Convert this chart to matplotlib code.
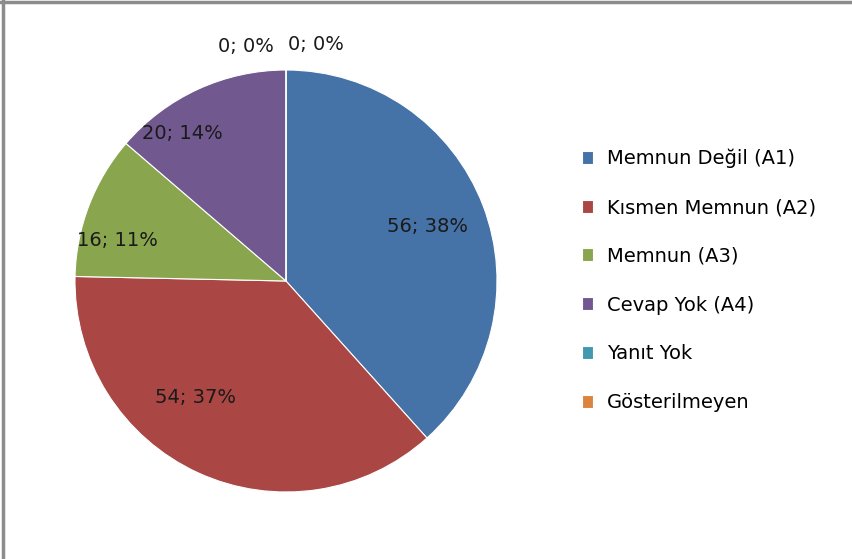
import matplotlib
matplotlib.use("Agg")
import matplotlib.pyplot as plt
from matplotlib.lines import Line2D

categories = ["Memnun Değil (A1)", "Kısmen Memnun (A2)", "Memnun (A3)",
              "Cevap Yok (A4)", "Yanıt Yok", "Gösterilmeyen"]
counts = [56, 54, 16, 20, 0, 0]
colors = ["#4572A7", "#AA4643", "#89A54E", "#71588F", "#4198AF", "#DB843D"]

# label anchors in pie units (Excel "best fit" placement)
label_pos = [(0.67, 0.26), (-0.43, -0.55), (-0.80, 0.19),
             (-0.49, 0.70), (-0.19, 1.11), (0.14, 1.12)]

plt.rcParams["font.family"] = ["DejaVu Sans"]

fig = plt.figure(figsize=(8.53, 5.59), dpi=100)
ax = fig.add_axes([75 / 853, 67 / 559, 422 / 853, 422 / 559])

wedges, _ = ax.pie(counts, colors=colors, startangle=90, counterclock=False,
                   radius=1.0, wedgeprops=dict(edgecolor="white", linewidth=0.8))
ax.set_xlim(-1, 1)
ax.set_ylim(-1, 1)
ax.set_aspect("equal")
ax.axis("off")

total = sum(counts)
for v, (x, y) in zip(counts, label_pos):
    ax.text(x, y, f"{v}; {round(100 * v / total)}%", ha="center", va="center",
            fontsize=14, color="#1a1a1a", clip_on=False)

fig.legend(wedges, categories, loc="upper left",
           bbox_to_anchor=(574 / 853, 1 - 141 / 559), frameon=False,
           fontsize=14, handlelength=0.6, handleheight=0.65,
           handletextpad=0.7, labelspacing=1.53, borderaxespad=0)

# chart frame (only left and top edges visible in the crop)
fig.add_artist(Line2D([3 / 853, 3 / 853], [0, 1], color="#8c8c8c", lw=2.5))
fig.add_artist(Line2D([0, 1], [1 - 1.5 / 559, 1 - 1.5 / 559], color="#8c8c8c", lw=2.5))

fig.savefig("out.png", dpi=100)
